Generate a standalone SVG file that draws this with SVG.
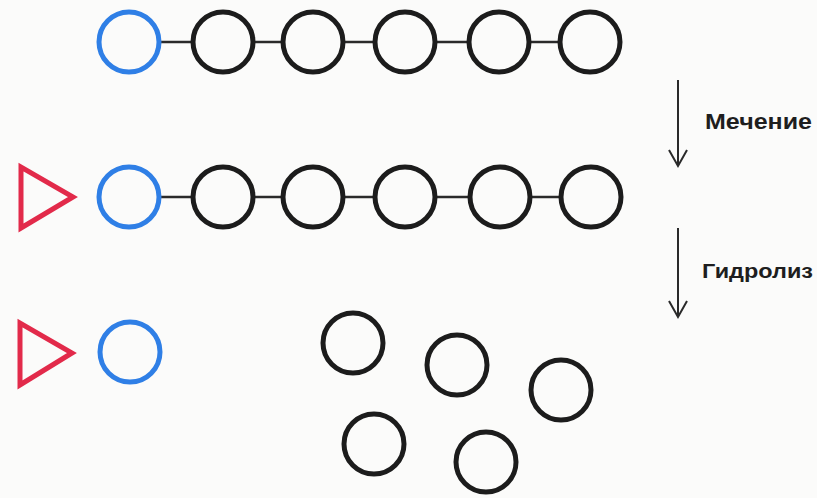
<svg xmlns="http://www.w3.org/2000/svg" width="817" height="498" viewBox="0 0 817 498">
  <style>
    .bk { fill: none; stroke: #1c1c1c; stroke-width: 5; }
    .bl { fill: none; stroke: #2f7fe6; stroke-width: 5; }
    .rd { fill: none; stroke: #e22a4a; stroke-width: 5; stroke-linejoin: miter; }
    .ln { stroke: #2a2a2a; stroke-width: 2.5; }
    .ar { fill: none; stroke: #2a2a2a; stroke-width: 2; }
    .lbl { font-family: "Liberation Sans", Arial, sans-serif; font-weight: bold; fill: #1e1e1e; }
  </style>
  <rect x="0" y="0" width="817" height="498" fill="#fbfbfa"/>

  <g id="connectors">
    <line class="ln" x1="159" y1="42" x2="193" y2="42"/>
    <line class="ln" x1="253" y1="42" x2="283" y2="42"/>
    <line class="ln" x1="343" y1="42" x2="375" y2="42"/>
    <line class="ln" x1="435" y1="42" x2="469" y2="42"/>
    <line class="ln" x1="529" y1="42" x2="560" y2="42"/>
    <line class="ln" x1="159" y1="197" x2="193" y2="197"/>
    <line class="ln" x1="253" y1="197" x2="283" y2="197"/>
    <line class="ln" x1="343" y1="197" x2="375" y2="197"/>
    <line class="ln" x1="435" y1="197" x2="470" y2="197"/>
    <line class="ln" x1="530" y1="197" x2="561" y2="197"/>
    <g id="arrow-label">
      <line class="ar" x1="678" y1="80" x2="678" y2="166"/>
      <polyline class="ar" points="669,150 678,166 687,150"/>
    </g>
    <g id="arrow-hydro">
      <line class="ar" x1="678" y1="228" x2="678" y2="317"/>
      <polyline class="ar" points="669,301 678,317 687,301"/>
    </g>
  </g>

  <g id="row1">
    <g id="r1-b"><circle class="bl" cx="129" cy="42" r="30"/></g>
    <g id="r1-c1"><circle class="bk" cx="223" cy="42" r="30"/></g>
    <g id="r1-c2"><circle class="bk" cx="313" cy="42" r="30"/></g>
    <g id="r1-c3"><circle class="bk" cx="405" cy="42" r="30"/></g>
    <g id="r1-c4"><circle class="bk" cx="499" cy="42" r="30"/></g>
    <g id="r1-c5"><circle class="bk" cx="590" cy="42" r="30"/></g>
  </g>

  <g id="row2">
    <g id="r2-t"><polygon class="rd" points="21,167 21,228 73,197"/></g>
    <g id="r2-b"><circle class="bl" cx="129" cy="197" r="30"/></g>
    <g id="r2-c1"><circle class="bk" cx="223" cy="197" r="30"/></g>
    <g id="r2-c2"><circle class="bk" cx="313" cy="197" r="30"/></g>
    <g id="r2-c3"><circle class="bk" cx="405" cy="197" r="30"/></g>
    <g id="r2-c4"><circle class="bk" cx="500" cy="197" r="30"/></g>
    <g id="r2-c5"><circle class="bk" cx="591" cy="197" r="30"/></g>
  </g>

  <g id="row3">
    <g id="r3-t"><polygon class="rd" points="20,323 20,385 72,353"/></g>
    <g id="r3-b"><circle class="bl" cx="130" cy="352" r="30"/></g>
    <g id="r3-c1"><circle class="bk" cx="353" cy="343" r="30"/></g>
    <g id="r3-c2"><circle class="bk" cx="457" cy="365" r="30"/></g>
    <g id="r3-c3"><circle class="bk" cx="561" cy="390" r="30"/></g>
    <g id="r3-c4"><circle class="bk" cx="374" cy="444" r="30"/></g>
    <g id="r3-c5"><circle class="bk" cx="486" cy="462" r="30"/></g>
  </g>

  <g id="labels">
    <text class="lbl" x="705" y="129" font-size="22" textLength="107" lengthAdjust="spacingAndGlyphs">Мечение</text>
    <text class="lbl" x="702" y="278" font-size="21" font-weight="600" textLength="111" lengthAdjust="spacingAndGlyphs">Гидролиз</text>
  </g>
</svg>
